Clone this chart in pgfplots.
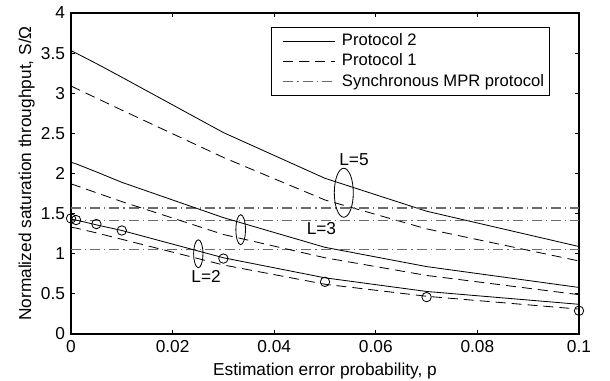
\documentclass[border=0pt]{standalone}
\usepackage{pgfplots}
\usepackage{pgfplotstable}
\pgfplotsset{compat=1.18}
\usepackage{fontspec}
\setmainfont{Liberation Sans}

\pgfplotstableread{
p     aa    ab    ba    bb    ca    cb    sim
0     3.53  3.09  2.14  1.87  1.43  1.33  1.44
0.001 3.50  3.06  2.12  1.85  1.42  1.32  1.42
0.005 3.37  2.94  2.02  1.76  1.36  1.26  1.37
0.01  3.20  2.79  1.89  1.65  1.29  1.18  1.29
0.03  2.51  2.20  1.45  1.24  0.95  0.86  0.94
0.05  1.94  1.67  1.08  0.95  0.70  0.62  0.65
0.07  1.53  1.31  0.84  0.73  0.53  0.47  0.46
0.1   1.09  0.91  0.58  0.49  0.37  0.31  0.29
}\datatable

\pgfplotstableread{
p    s1    s2    s3
0    1.57  1.41  1.05
0.1  1.57  1.41  1.05
}\synctable

\definecolor{dgray}{rgb}{0.42,0.42,0.42}

\begin{document}
\fontsize{12.5}{15}\selectfont
\begin{tikzpicture}
\useasboundingbox (-0.71in,-0.47in) rectangle (5.39in,3.34in);
\begin{axis}[
  at={(0,0)}, anchor=south west,
  scale only axis, width=5.08in, height=3.21in,
  xmin=0, xmax=0.1, ymin=0, ymax=4,
  xtick={0,0.02,0.04,0.06,0.08,0.1},
  ytick={0,0.5,1,1.5,2,2.5,3,3.5,4},
  scaled x ticks=false,
  xticklabel style={/pgf/number format/fixed, /pgf/number format/precision=2},
  /pgf/number format/assume math mode=true,
  tick align=inside, major tick length=0.04in,
  tick style={line width=0.6pt, black},
  axis line style={line width=0.9pt},
  ticklabel style={font=\fontsize{12.5}{15}\selectfont},
  label style={font=\fontsize{12.5}{15}\selectfont},
  xlabel={Estimation error probability, p},
  ylabel={Normalized saturation throughput, S/Ω},
  ylabel shift=-4pt,
  xlabel shift=-1pt,
  legend style={at={(0.942,0.955)}, anchor=north east, draw=black, line width=0.7pt,
     font=\fontsize{12}{14}\selectfont, inner xsep=0.05in, inner ysep=4pt, row sep=3pt,
     nodes={inner sep=0pt, text height=9pt, text depth=2.5pt},
     /tikz/every odd column/.append style={column sep=0.06in}},
  legend cell align=left,
  legend image code/.code={\path (-0.06in,0in); \draw[#1] plot coordinates {(0in,0in) (0.26in,0in) (0.52in,0in)};},
]
\addplot[black, line width=0.6pt] table[x=p,y=aa] {\datatable};
\addlegendentry{Protocol 2}
\addplot[black, line width=0.6pt, dash pattern=on 0.1in off 0.06in] table[x=p,y=ab] {\datatable};
\addlegendentry{Protocol 1}
\addplot[dgray, line width=0.9pt, dash pattern=on 0.1in off 0.04in on 0.012in off 0.04in] table[x=p,y=s1] {\synctable};
\addlegendentry{Synchronous MPR protocol}
\addplot[dgray, line width=0.9pt, dash pattern=on 0.1in off 0.04in on 0.012in off 0.04in, forget plot] table[x=p,y=s2] {\synctable};
\addplot[dgray, line width=0.9pt, dash pattern=on 0.1in off 0.04in on 0.012in off 0.04in, forget plot] table[x=p,y=s3] {\synctable};
\addplot[black, line width=0.6pt, forget plot] table[x=p,y=ba] {\datatable};
\addplot[black, line width=0.6pt, dash pattern=on 0.1in off 0.06in, forget plot] table[x=p,y=bb] {\datatable};
\addplot[black, line width=0.6pt, forget plot] table[x=p,y=ca] {\datatable};
\addplot[black, line width=0.6pt, dash pattern=on 0.1in off 0.06in, forget plot] table[x=p,y=cb] {\datatable};
\addplot[only marks, mark=o, mark size=0.047in, black, mark options={line width=0.6pt}, forget plot, clip=false] table[x=p,y=sim] {\datatable};

\draw[black, line width=0.6pt] (axis cs:0.02506,1.0) ellipse [x radius=0.0465in, y radius=0.14in];
\draw[black, line width=0.6pt] (axis cs:0.0334,1.30) ellipse [x radius=0.048in, y radius=0.15in];
\draw[black, line width=0.6pt] (axis cs:0.0537,1.76) ellipse [x radius=0.095in, y radius=0.245in];
\node at (axis cs:0.0557,2.17) {L=5};
\node at (axis cs:0.0493,1.32) {L=3};
\node at (axis cs:0.0266,0.716) {L=2};
\end{axis}
\end{tikzpicture}
\end{document}
